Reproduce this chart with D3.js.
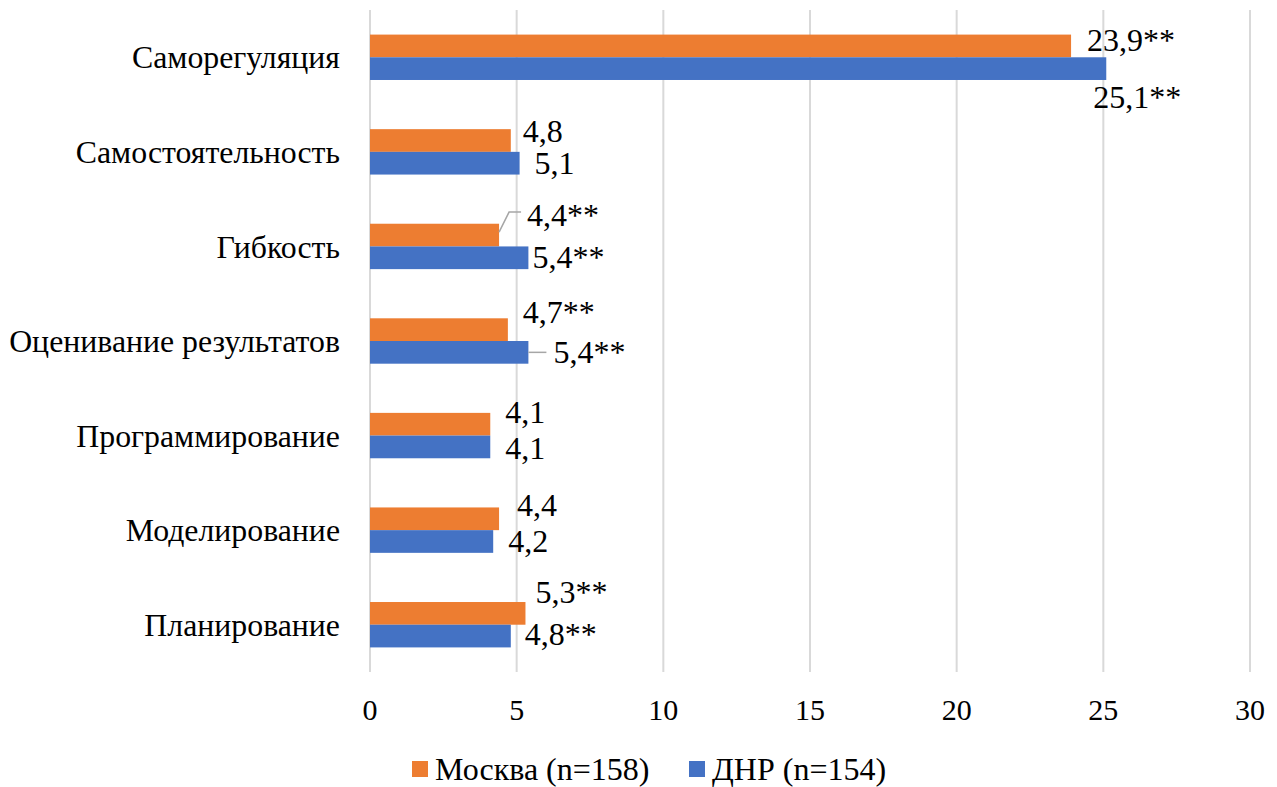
<!DOCTYPE html>
<html>
<head>
<meta charset="utf-8">
<script src="https://cdn.jsdelivr.net/npm/d3@7"></script>
<style>
    body { margin: 0; background: #fff; }
</style>
</head>
<body>
<div id="chart"></div>
<script>
// Data
const categories = ['Саморегуляция', 'Самостоятельность', 'Гибкость', 'Оценивание результатов',
    'Программирование', 'Моделирование', 'Планирование'];
const seriesNames = ['Москва (n=158)', 'ДНР (n=154)'];
const moscow = [23.9, 4.8, 4.4, 4.7, 4.1, 4.4, 5.3];
const dnr = [25.1, 5.1, 5.4, 5.4, 4.1, 4.2, 4.8];
const moscowLabels = ['23,9**', '4,8', '4,4**', '4,7**', '4,1', '4,4', '5,3**'];
const dnrLabels = ['25,1**', '5,1', '5,4**', '5,4**', '4,1', '4,2', '4,8**'];
const xTicks = [0, 5, 10, 15, 20, 25, 30];

// Label nudges (moved by hand in the original), [dx, dy] from bar end / bar middle
const moscowNudge = [[16, -6], [12, -10], [28, -20], [15, -18], [15, -12], [18, -14], [10, -22]];
const dnrNudge = [[-13, 28], [15, 0], [4, -1], [25, -1], [15, 1], [15, -1], [14, -2]];
const colors = ['#ED7D31', '#4472C4'];
const font = '"Liberation Serif"';

const width = 1277, height = 787;
const svg = d3.select('#chart').append('svg')
    .attr('width', width)
    .attr('height', height);

const x = d3.scaleLinear().domain([0, 30]).range([370, 1250]);
const y = d3.scaleBand()
    .domain(categories)
    .range([10, 672])
    .paddingInner(0.52)
    .paddingOuter(0.26);
const ySub = d3.scaleBand().domain(seriesNames).range([0, y.bandwidth()]);

// Gridlines
svg.append('g')
    .selectAll('line')
    .data(xTicks)
    .enter()
    .append('line')
    .attr('x1', d => x(d))
    .attr('x2', d => x(d))
    .attr('y1', 10)
    .attr('y2', 672)
    .attr('stroke', '#d9d9d9')
    .attr('stroke-width', 2);

// Bars
const series = [
    { name: seriesNames[0], values: moscow, labels: moscowLabels, nudge: moscowNudge, color: colors[0] },
    { name: seriesNames[1], values: dnr, labels: dnrLabels, nudge: dnrNudge, color: colors[1] }
];

series.forEach(s => {
    svg.append('g')
        .selectAll('rect')
        .data(s.values)
        .enter()
        .append('rect')
        .attr('x', x(0))
        .attr('y', (d, i) => y(categories[i]) + ySub(s.name))
        .attr('width', d => x(d) - x(0))
        .attr('height', ySub.bandwidth())
        .attr('fill', s.color);
});

// Leader lines for the two labels that were pulled away
const lead = svg.append('g')
    .attr('fill', 'none')
    .attr('stroke', '#a6a6a6')
    .attr('stroke-width', 1.5);
{
    const i = 2;
    const bx = x(moscow[i]);
    const by = y(categories[i]) + ySub(seriesNames[0]) + ySub.bandwidth() / 2;
    const ly = by + moscowNudge[i][1];
    lead.append('path')
        .attr('d', `M${bx},${by - 3}L${bx + 10},${ly - 3}L${bx + 22},${ly - 3}`);
}
{
    const i = 3;
    const bx = x(dnr[i]);
    const by = y(categories[i]) + ySub(seriesNames[1]) + ySub.bandwidth() / 2;
    lead.append('path')
        .attr('d', `M${bx},${by}L${bx + 18},${by}`);
}

// Data labels
series.forEach(s => {
    svg.append('g')
        .selectAll('text')
        .data(s.values)
        .enter()
        .append('text')
        .attr('x', (d, i) => x(d) + s.nudge[i][0])
        .attr('y', (d, i) => y(categories[i]) + ySub(s.name) + ySub.bandwidth() / 2 + s.nudge[i][1])
        .attr('dy', '0.35em')
        .style('font-family', font)
        .style('font-size', '32px')
        .attr('fill', '#000')
        .text((d, i) => s.labels[i]);
});

// Category axis
svg.append('g')
    .selectAll('text')
    .data(categories)
    .enter()
    .append('text')
    .attr('x', 340)
    .attr('y', d => y(d) + y.bandwidth() / 2)
    .attr('dy', '0.35em')
    .attr('text-anchor', 'end')
    .style('font-family', font)
    .style('font-size', '31.8px')
    .text(d => d);

// Value axis
svg.append('g')
    .selectAll('text')
    .data(xTicks)
    .enter()
    .append('text')
    .attr('x', d => x(d))
    .attr('y', 709)
    .attr('dy', '0.35em')
    .attr('text-anchor', 'middle')
    .style('font-family', font)
    .style('font-size', '30px')
    .text(d => d);

// Legend
const legendX = [412, 689];
const legend = svg.append('g')
    .selectAll('g')
    .data(seriesNames)
    .enter()
    .append('g')
    .attr('transform', (d, i) => `translate(${legendX[i]},769)`);
legend.append('rect')
    .attr('x', 0)
    .attr('y', -8)
    .attr('width', 16)
    .attr('height', 16)
    .attr('fill', (d, i) => colors[i]);
legend.append('text')
    .attr('x', 23)
    .attr('y', 0)
    .attr('dy', '0.35em')
    .style('font-family', font)
    .style('font-size', '32px')
    .text(d => d);
</script>
</body>
</html>
